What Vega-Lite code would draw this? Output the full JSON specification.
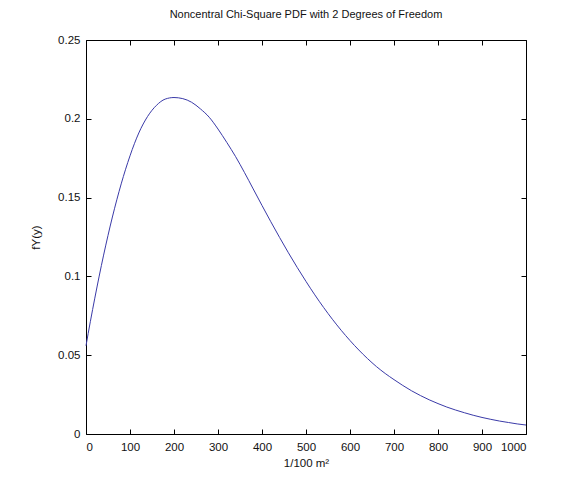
{
  "$schema": "https://vega.github.io/schema/vega-lite/v6.json",
  "width": 440,
  "height": 394,
  "autosize": {"type": "none"},
  "padding": {"left": 86, "top": 40, "right": 52, "bottom": 51},
  "background": "white",
  "title": {"text": "Noncentral Chi-Square PDF with 2 Degrees of Freedom", "font": "Liberation Sans", "fontSize": 11, "fontWeight": "normal", "color": "#111", "offset": 14},
  "config": {
    "view": {"stroke": null},
    "axis": {"labelFont": "Liberation Sans", "labelFontSize": 11.5, "labelColor": "#111", "titleFont": "Liberation Sans", "titleFontSize": 11.5, "titleFontWeight": "normal", "titleColor": "#111", "domainColor": "#000", "tickColor": "#000", "grid": false, "tickSize": -5, "labelPadding": 9}
  },
  "data": {"values": [
    {"v": 0, "f": 0.056}, {"v": 10, "f": 0.0715}, {"v": 20, "f": 0.0862}, {"v": 30, "f": 0.1002},
    {"v": 40, "f": 0.1135}, {"v": 50, "f": 0.126}, {"v": 60, "f": 0.1377}, {"v": 70, "f": 0.1486},
    {"v": 80, "f": 0.1587}, {"v": 90, "f": 0.168}, {"v": 100, "f": 0.1765}, {"v": 120, "f": 0.191},
    {"v": 140, "f": 0.2015}, {"v": 160, "f": 0.2085}, {"v": 180, "f": 0.2125}, {"v": 200, "f": 0.2135},
    {"v": 220, "f": 0.2128}, {"v": 240, "f": 0.2105}, {"v": 260, "f": 0.2063}, {"v": 280, "f": 0.201},
    {"v": 300, "f": 0.1935}, {"v": 320, "f": 0.185}, {"v": 340, "f": 0.176}, {"v": 360, "f": 0.166},
    {"v": 380, "f": 0.1555}, {"v": 400, "f": 0.145}, {"v": 420, "f": 0.1347}, {"v": 440, "f": 0.1247},
    {"v": 460, "f": 0.115}, {"v": 480, "f": 0.1057}, {"v": 500, "f": 0.0968}, {"v": 520, "f": 0.0883},
    {"v": 540, "f": 0.0803}, {"v": 560, "f": 0.0728}, {"v": 580, "f": 0.0658}, {"v": 600, "f": 0.0593},
    {"v": 620, "f": 0.0533}, {"v": 640, "f": 0.0478}, {"v": 660, "f": 0.0428}, {"v": 680, "f": 0.0384},
    {"v": 700, "f": 0.0345}, {"v": 720, "f": 0.0308}, {"v": 740, "f": 0.0274}, {"v": 760, "f": 0.0244},
    {"v": 780, "f": 0.0217}, {"v": 800, "f": 0.0193}, {"v": 820, "f": 0.0171}, {"v": 840, "f": 0.0152},
    {"v": 860, "f": 0.0135}, {"v": 880, "f": 0.0119}, {"v": 900, "f": 0.0105}, {"v": 920, "f": 0.0093},
    {"v": 940, "f": 0.0082}, {"v": 960, "f": 0.0073}, {"v": 980, "f": 0.0064}, {"v": 1000, "f": 0.0057}
  ]},
  "resolve": {"axis": {"x": "independent", "y": "independent"}},
  "layer": [
    {
      "mark": {"type": "line", "color": "#3a3aa8", "strokeWidth": 1, "interpolate": "monotone"},
      "encoding": {
        "x": {"field": "v", "type": "quantitative", "scale": {"domain": [0, 1000], "nice": false}, "axis": {"title": "1/100 m²", "format": "d", "values": [0,100,200,300,400,500,600,700,800,900,1000], "labelPadding": 12, "titlePadding": 5}},
        "y": {"field": "f", "type": "quantitative", "scale": {"domain": [0, 0.25], "nice": false, "zero": false}, "axis": {"title": "fY(y)", "format": ".2~f", "values": [0,0.05,0.1,0.15,0.2,0.25], "labelPadding": 11, "titlePadding": 16}}
      }
    },
    {
      "mark": {"type": "line", "opacity": 0},
      "encoding": {
        "x": {"field": "v", "type": "quantitative", "axis": {"orient": "top", "labels": false, "title": null, "values": [0,100,200,300,400,500,600,700,800,900,1000]}},
        "y": {"field": "f", "type": "quantitative", "axis": {"orient": "right", "labels": false, "title": null, "values": [0,0.05,0.1,0.15,0.2,0.25]}}
      }
    }
  ]
}
